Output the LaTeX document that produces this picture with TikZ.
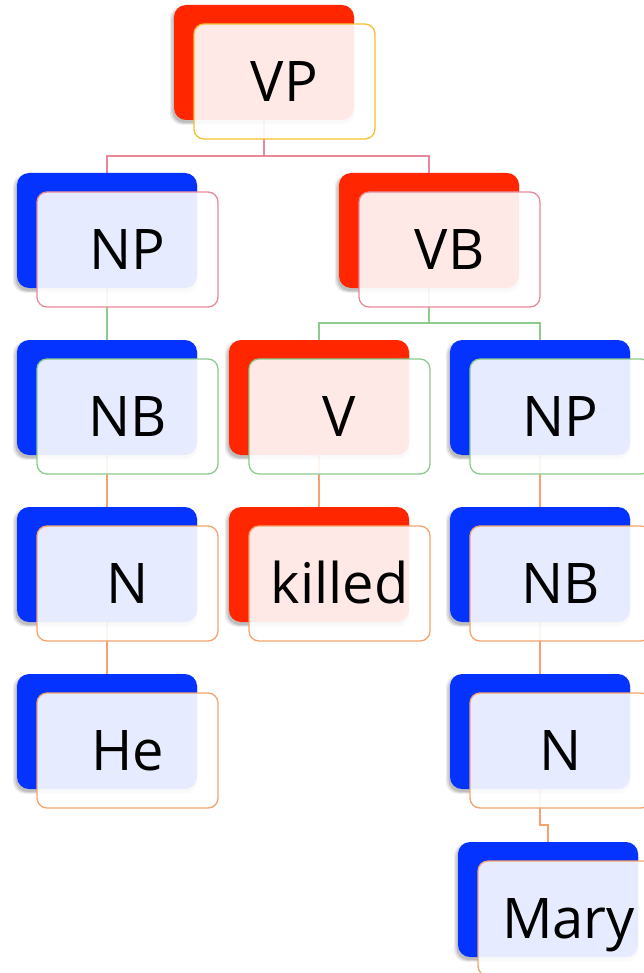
\documentclass[tikz,border=0pt]{standalone}
\usepackage{fontspec}
\setmainfont{Open Sans}
\usetikzlibrary{calc,shadows}
\pgfdeclarelayer{bg}
\pgfsetlayers{bg,main}
\definecolor{cred}{HTML}{FF2600}
\definecolor{cblue}{HTML}{0433FF}
\definecolor{oyel}{HTML}{F5C02E}
\definecolor{opink}{HTML}{E8899A}
\definecolor{ogreen}{HTML}{8CCB8C}
\definecolor{oorange}{HTML}{F4A36E}
\tikzset{
  backbox/.style={rectangle, rounded corners=12pt, minimum width=180pt, minimum height=115pt,
    anchor=north west, inner sep=0pt, outer sep=0pt,
    general shadow={shadow xshift=-1.5pt, shadow yshift=-3pt, shadow scale=1.03, fill=black, opacity=0.07},
    general shadow={shadow xshift=-1.5pt, shadow yshift=-3pt, shadow scale=1.015, fill=black, opacity=0.09},
    general shadow={shadow xshift=-1.5pt, shadow yshift=-3pt, shadow scale=1.0, fill=black, opacity=0.12}},
  frontbox/.style={rectangle, rounded corners=10pt, minimum width=181pt, minimum height=115pt,
    anchor=north west, fill=white, fill opacity=0.9, text opacity=1, line width=1.3pt,
    inner sep=0pt, outer sep=0pt, text height=40pt, text depth=0pt,
    font=\fontsize{56}{60}\selectfont},
  link/.style={line width=1.3pt}
}
\begin{document}
\begin{tikzpicture}[x=1pt,y=-1pt]
\useasboundingbox (0,0) rectangle (644,973);
\clip (0,0) rectangle (644,973);
% back boxes
\node[backbox, fill=cred]  (vp)   at (174,5)   {};
\node[backbox, fill=cblue] (np1)  at (17,173)  {};
\node[backbox, fill=cred]  (vb)   at (339,173) {};
\node[backbox, fill=cblue] (nb1)  at (17,340)  {};
\node[backbox, fill=cred]  (v)    at (229,340) {};
\node[backbox, fill=cblue] (np2)  at (450,340) {};
\node[backbox, fill=cblue] (n1)   at (17,507)  {};
\node[backbox, fill=cred]  (kill) at (229,507) {};
\node[backbox, fill=cblue] (nb2)  at (450,507) {};
\node[backbox, fill=cblue] (he)   at (17,674)  {};
\node[backbox, fill=cblue] (n2)   at (450,674) {};
\node[backbox, fill=cblue] (mary) at (458,842) {};
% front boxes with labels
\node[frontbox, draw=oyel]    (fvp)   at (194,24)  {VP};
\node[frontbox, draw=opink]   (fnp1)  at (37,192)  {NP};
\node[frontbox, draw=opink]   (fvb)   at (359,192) {VB};
\node[frontbox, draw=ogreen]  (fnb1)  at (37,359)  {NB};
\node[frontbox, draw=ogreen]  (fv)    at (249,359) {V};
\node[frontbox, draw=ogreen]  (fnp2)  at (470,359) {NP};
\node[frontbox, draw=oorange] (fn1)   at (37,526)  {N};
\node[frontbox, draw=oorange] (fkill) at (249,526) {killed};
\node[frontbox, draw=oorange] (fnb2)  at (470,526) {NB};
\node[frontbox, draw=oorange] (fhe)   at (37,693)  {He};
\node[frontbox, draw=oorange] (fn2)   at (470,693) {N};
\node[frontbox, draw=oorange] (fmary) at (478,861) {Mary};
% connectors
\begin{pgfonlayer}{bg}
\draw[link, opink] (vp.south) -- (vp.south |- 0,156) -| (np1.north);
\draw[link, opink] (vp.south) -- (vp.south |- 0,156) -| (vb.north);
\draw[link, ogreen] (np1.south) -- (nb1.north);
\draw[link, ogreen] (vb.south) -- (vb.south |- 0,323) -| (v.north);
\draw[link, ogreen] (vb.south) -- (vb.south |- 0,323) -| (np2.north);
\draw[link, oorange] (nb1.south) -- (n1.north);
\draw[link, oorange] (v.south) -- (kill.north);
\draw[link, oorange] (np2.south) -- (nb2.north);
\draw[link, oorange] (n1.south) -- (he.north);
\draw[link, oorange] (nb2.south) -- (n2.north);
\draw[link, oorange] (n2.south) -- (n2.south |- 0,825) -| (mary.north);
\end{pgfonlayer}
\end{tikzpicture}
\end{document}
